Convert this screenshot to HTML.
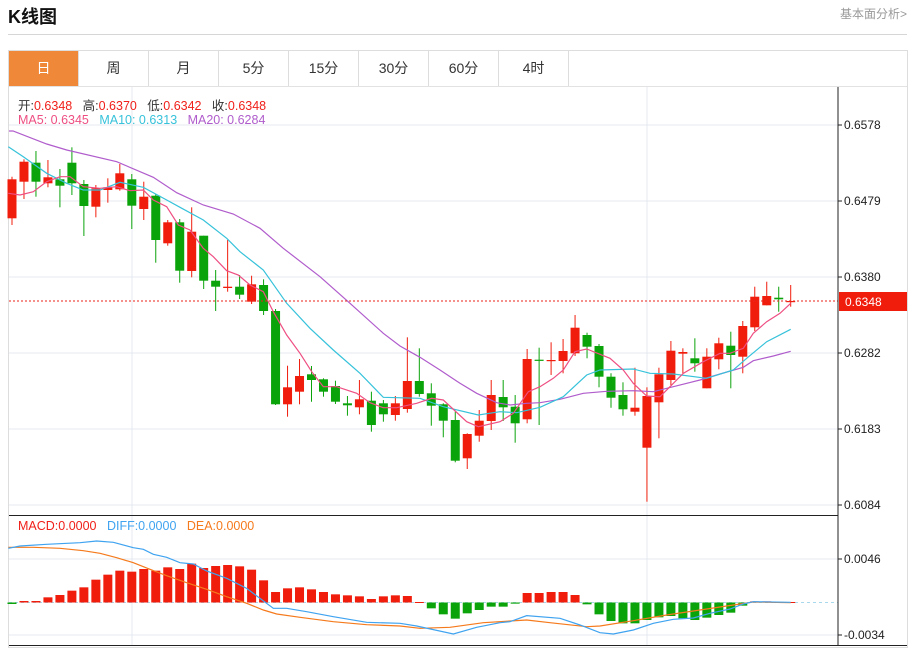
<!DOCTYPE html>
<html><head><meta charset="utf-8"><style>
body{margin:0;width:915px;height:647px;background:#fff;font-family:"Liberation Sans","Noto Sans CJK SC",sans-serif;position:relative;overflow:hidden}
.abs{position:absolute}
.tab{position:absolute;top:51px;height:35px;width:69px;border-right:1px solid #ddd;text-align:center;line-height:35px;font-size:14px;color:#333}
</style></head><body>
<div class="abs" style="left:8px;top:3px;font-size:18px;font-weight:bold;color:#111">K线图</div>
<div class="abs" style="right:8px;top:5px;font-size:12px;color:#999">基本面分析&gt;</div>
<div class="abs" style="left:8px;top:34px;width:899px;height:1px;background:#d6d6d6"></div>
<div class="abs" style="left:8px;top:50px;width:898px;height:596px;border:1px solid #ddd"></div>
<div class="abs" style="left:9px;top:86px;width:898px;height:1px;background:#e2e2e2"></div>
<div class="tab" style="left:9px;background:#f0883a;color:#fff;">日</div>
<div class="tab" style="left:79px">周</div>
<div class="tab" style="left:149px">月</div>
<div class="tab" style="left:219px">5分</div>
<div class="tab" style="left:289px">15分</div>
<div class="tab" style="left:359px">30分</div>
<div class="tab" style="left:429px">60分</div>
<div class="tab" style="left:499px">4时</div>
<svg class="abs" style="left:0;top:0" width="915" height="647" id="s">
<g stroke="#e4eaf0" stroke-width="1">
<line x1="9" y1="125" x2="838" y2="125"/><line x1="9" y1="201" x2="838" y2="201"/><line x1="9" y1="277" x2="838" y2="277"/><line x1="9" y1="353" x2="838" y2="353"/><line x1="9" y1="429" x2="838" y2="429"/><line x1="9" y1="505" x2="838" y2="505"/>
<line x1="9" y1="559" x2="838" y2="559"/><line x1="9" y1="635" x2="838" y2="635"/>
<line x1="132" y1="87" x2="132" y2="646"/><line x1="647" y1="87" x2="647" y2="646"/>
</g>
<line x1="9" y1="602.5" x2="838" y2="602.5" stroke="#a8d8ec" stroke-dasharray="3,3"/>
<g id="g"></g>
<line x1="9" y1="301" x2="838" y2="301" stroke="#e8231a" stroke-dasharray="2,2"/>
<line x1="838" y1="87" x2="838" y2="646" stroke="#222"/>
<line x1="9" y1="515.5" x2="838" y2="515.5" stroke="#222"/>
<line x1="9" y1="645.5" x2="907" y2="645.5" stroke="#222"/>
<g stroke="#222"><line x1="838" y1="125" x2="842" y2="125"/><line x1="838" y1="201" x2="842" y2="201"/><line x1="838" y1="277" x2="842" y2="277"/><line x1="838" y1="353" x2="842" y2="353"/><line x1="838" y1="429" x2="842" y2="429"/><line x1="838" y1="505" x2="842" y2="505"/><line x1="838" y1="559" x2="842" y2="559"/><line x1="838" y1="635" x2="842" y2="635"/></g>
<rect x="839" y="292" width="68" height="19" fill="#f01c0c"/>
<g font-size="12" fill="#222" font-family="Liberation Sans,sans-serif">
<text x="844" y="129">0.6578</text><text x="844" y="205">0.6479</text><text x="844" y="281">0.6380</text><text x="844" y="357">0.6282</text><text x="844" y="433">0.6183</text><text x="844" y="509">0.6084</text>
<text x="844" y="563">0.0046</text><text x="844" y="639">-0.0034</text>
<text x="845" y="306" fill="#fff">0.6348</text>
</g>
</svg>
<div class="abs" style="left:18px;top:95px;font-size:12.5px;color:#333;white-space:pre">开:<span style="color:#f0201a">0.6348</span>   高:<span style="color:#f0201a">0.6370</span>   低:<span style="color:#f0201a">0.6342</span>   收:<span style="color:#f0201a">0.6348</span></div>
<div class="abs" style="left:18px;top:113px;font-size:12.5px;white-space:pre"><span style="color:#ee4f82">MA5: 0.6345</span>   <span style="color:#36c2da">MA10: 0.6313</span>   <span style="color:#b05ccc">MA20: 0.6284</span></div>
<div class="abs" style="left:18px;top:519px;font-size:12.5px;white-space:pre"><span style="color:#f0201a">MACD:0.0000</span>   <span style="color:#3fa3f0">DIFF:0.0000</span>   <span style="color:#f57a1c">DEA:0.0000</span></div>
<script>
var C=[[179.3,218.3,176.7,225,1],[161.7,181.7,159.3,199,1],[162.7,181.7,151,196.7,0],[177.3,183.3,160,187.3,1],[179.3,185.7,169,207.3,0],[162.7,183.3,147.3,195,0],[184,206,180,236,0],[188.3,206.7,185,217.3,1],[187.3,190,178.3,202.7,1],[173.3,189.3,164,190.7,1],[179.3,205.7,174,229,0],[196.7,209,181.7,220,1],[195.7,240,194,262.7,0],[222.3,243.3,220,245.7,1],[222.3,270.7,219,282.7,0],[231.7,271,207.3,277.3,1],[235.7,280.7,235.7,289,0],[280.7,286.7,270,311,0],[286.7,288,240,291.7,1],[286.7,294.7,275,299,0],[284.3,301.7,275.7,304,1],[285,311,279.3,315,0],[311,404.3,309,405,0],[387.3,404.3,365.7,416.7,1],[376,391.7,359,404.3,1],[374.3,380,366,401.7,0],[379.3,391.7,378.3,396.7,0],[386,401.7,380.7,404,0],[403.3,405.3,396,415.7,0],[399.3,407.3,380,414.3,1],[400.7,425,391.7,431.7,0],[403.3,414.3,400,421.7,0],[403.3,415,396,420.7,1],[381,409,337.3,412.7,1],[381,394,348.3,396.7,0],[393.3,405.7,383.3,425.7,0],[404.3,420.7,403.3,437.3,0],[420,460.7,411.7,462.3,0],[434,458.3,433.3,469,1],[420.7,435.7,410,441.7,1],[395,421,380,430,1],[397,407.3,380,421,0],[406.7,423.3,395,442.7,0],[359,419.3,349,423.3,1],[359.7,360.7,347.7,425,0],[360,361,342.3,375,1],[351,361,339,373.3,1],[327.7,353.3,315,356,1],[335,346.7,332.7,358.3,0],[346,376.7,344,387.3,0],[376.7,397.7,373.3,407.7,0],[395,409.3,382.3,415.7,0],[407.7,411.7,367.7,415.7,1],[396,447.7,387.3,501.7,1],[374.3,402.3,367.7,438.3,1],[350.7,380,341,385,1],[352,353.7,348.3,373.3,1],[358.3,363.3,338.3,371.7,0],[356.7,388.3,348.3,388.3,1],[343.3,359.3,337.7,369.3,1],[345.7,355,331.7,388.3,0],[326,356.7,321,373.3,1],[296.7,327.3,286.7,331,1],[296,305.3,281.7,305.3,1],[297.7,299.3,286.7,311.7,0],[301,302,285,306.7,1]];
var M=[282,273,273,262,255,242,232,209,194,182,185,177,182,172,177,161,174,168,165,169,179,211,246,235,232,238,246,253,256,259,267,259,256,258,275,295,313,326,310,300,290,290,281,249,249,246,246,255,283,313,333,340,340,330,322,318,325,330,323,315,308,287,274,274,277,277];
var MA20=[[9,131],[13,131],[46.7,144],[66.7,150],[116.7,161.7],[153.3,177.3],[176.7,192.7],[203.3,205],[233.3,214],[260,228.3],[283.3,248.3],[320,276.7],[350,303.3],[383.3,333.3],[400,346],[420,357.3],[440,370],[460,383.3],[476.7,393.3],[496.7,402.7],[510,405],[526.7,403.3],[540,402.7],[560,399.3],[583.3,393.3],[606.7,391.3],[633.3,390.7],[653.3,391.7],[673.3,386.7],[700,380],[720,374],[743.3,367.3],[753.3,360.7],[773.3,356],[790.7,351.3]];
var MA10=[[8.3,146.7],[23.3,156.7],[46.7,173.3],[66.7,183.3],[83.3,190],[100,190],[120,182.3],[143.3,187.3],[166.7,200],[180,207.3],[203.3,220],[226.7,238.3],[240,251.7],[263.3,270],[286.7,303.3],[310,328.3],[333.3,350],[360,373.3],[383.3,397.3],[420,398.3],[443.3,406.7],[478.3,415],[500,411.7],[516.7,412.7],[540,407.3],[563.3,396.7],[586.7,375],[600,370],[633.3,369],[650,373.3],[673.3,374],[706.7,378.3],[733.3,370],[746.7,358.3],[766.7,341.7],[790.7,329.3]];
var MA5=[[8.3,193.3],[20,195],[33.3,191.7],[46.7,181.7],[60,176.7],[70,176.7],[83.3,186.7],[100,188.3],[116.7,186.7],[130,190.7],[143.3,190],[153.3,200],[166.7,206.7],[178.3,225],[190,230],[203.3,248.3],[213.3,256.7],[226.7,270.7],[238.3,275],[250,285],[263.3,291.7],[273.3,311.7],[286.7,335],[300,353.3],[311.7,371.7],[323.3,386.7],[336.7,386.7],[356.7,393.3],[370,402.7],[383.3,407.7],[396.7,407.7],[416.7,403.3],[431.7,398.3],[443.3,400],[466.7,421.7],[478.3,426.7],[500,421.7],[513.3,413.3],[528.3,391.7],[540,386.7],[553.3,378.3],[563.3,370],[575,351.7],[586.7,349],[610,358.3],[623.3,370],[633.3,383.3],[646.7,396],[660,396.7],[670,386.7],[683.3,373.3],[703.3,361.7],[720,353.3],[730,353.3],[743.3,348.3],[753.3,333.3],[766.7,321.7],[780,313.3],[790.7,303.3]];
function z4(a){return a.map(function(p){return [p[0]/3,510+p[1]/3]})}
function z5(a){return a.map(function(p){return [400+p[0]/3,510+p[1]/3]})}
var DIFF=z4([[25,115],[60,108],[140,103],[240,98],[290,93],[340,97],[400,113],[430,118],[460,133],[500,142],[540,158],[580,162],[620,183],[680,205],[740,235],[780,265],[820,295],[860,295],[920,305],[1000,320],[1100,337],[1200,340]]).concat(z5([[0,340],[50,348],[160,372],[230,352],[300,338],[330,335],[380,317],[480,325],[540,345],[600,368],[640,372],[700,360],[760,340],[820,328],[880,324],[930,310],[990,297],[1030,282],[1060,275],[1172,277]]));
var DEA=z4([[25,112],[100,112],[180,115],[250,122],[300,130],[350,143],[400,158],[450,178],[500,197],[560,218],[620,238],[680,260],[740,280],[790,300],[830,312],[900,322],[1000,335],[1100,344],[1200,348]]).concat(z5([[0,348],[60,355],[150,352],[250,338],[380,330],[450,338],[560,350],[600,348],[700,332],[800,315],[900,300],[1000,285],[1060,276],[1172,278]]));
var h='';
function pl(a,c){h+='<polyline fill="none" stroke="'+c+'" stroke-width="1.2" points="'+a.map(function(p){return p.join(',')}).join(' ')+'"/>';}
var Z=602.5;
for(var i=0;i<66;i++){var x=12+i*11.98,y=510+M[i]/3;var t=Math.min(y,Z),b=Math.max(y,Z);var c=(y<Z)?'#f01c0c':'#0aa30a';if(b-t<1){t=Z-0.5;b=Z+0.5;}
h+='<rect x="'+(x-4.5)+'" y="'+t+'" width="9" height="'+(b-t)+'" fill="'+c+'"/>';}
pl(DEA,'#f57a1c');pl(DIFF,'#3fa3f0');
for(var i=0;i<66;i++){var d=C[i],x=12+i*11.98,c=d[4]?'#f01c0c':'#0aa30a';
h+='<line x1="'+x+'" y1="'+d[2]+'" x2="'+x+'" y2="'+d[3]+'" stroke="'+c+'" stroke-width="1"/>';
var hh=Math.max(d[1]-d[0],1.2);h+='<rect x="'+(x-4.5)+'" y="'+d[0]+'" width="9" height="'+hh+'" fill="'+c+'"/>';}
pl(MA20,'#b05ccc');pl(MA10,'#36c2da');pl(MA5,'#ee4f82');
document.getElementById('g').innerHTML=h;
</script>
</body></html>
